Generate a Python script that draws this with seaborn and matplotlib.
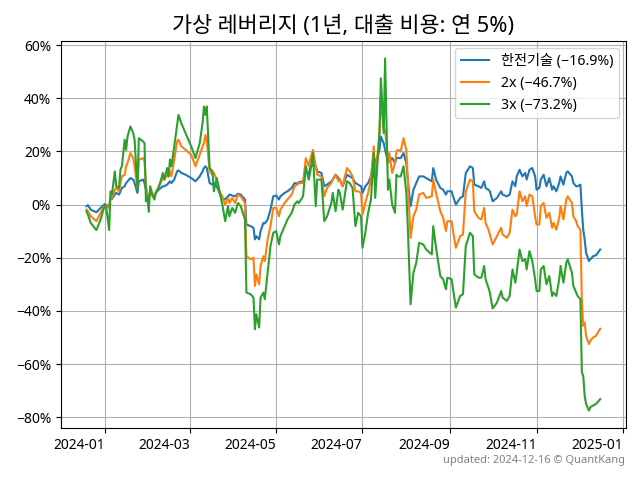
import matplotlib
matplotlib.use("Agg")
import matplotlib.pyplot as plt
import matplotlib.dates as mdates
from matplotlib.ticker import FuncFormatter
import seaborn as sns
import pandas as pd

# ---------------- data ----------------
dates = [
    "2023-12-19", "2023-12-20", "2023-12-22", "2023-12-26", "2023-12-29",
    "2024-01-01", "2024-01-02", "2024-01-04", "2024-01-05", "2024-01-06",
    "2024-01-08", "2024-01-09", "2024-01-11", "2024-01-12", "2024-01-13",
    "2024-01-15", "2024-01-16", "2024-01-17", "2024-01-19", "2024-01-21",
    "2024-01-22", "2024-01-24", "2024-01-25", "2024-01-28", "2024-01-29",
    "2024-01-30", "2024-01-31", "2024-02-01", "2024-02-02", "2024-02-04",
    "2024-02-05", "2024-02-06", "2024-02-08", "2024-02-11", "2024-02-12",
    "2024-02-14", "2024-02-15", "2024-02-16", "2024-02-17", "2024-02-19",
    "2024-02-21", "2024-02-22", "2024-02-24", "2024-02-27", "2024-03-02",
    "2024-03-05", "2024-03-08", "2024-03-10", "2024-03-11", "2024-03-12",
    "2024-03-13",
    "2024-03-15", "2024-03-17", "2024-03-18", "2024-03-20", "2024-03-22",
    "2024-03-24", "2024-03-26", "2024-03-28", "2024-03-29", "2024-03-31",
    "2024-04-02", "2024-04-04", "2024-04-06", "2024-04-09", "2024-04-10",
    "2024-04-13", "2024-04-15", "2024-04-16", "2024-04-17", "2024-04-19",
    "2024-04-20", "2024-04-22", "2024-04-23", "2024-04-25", "2024-04-27",
    "2024-04-29", "2024-05-01", "2024-05-03", "2024-05-04", "2024-05-07",
    "2024-05-09", "2024-05-12", "2024-05-14", "2024-05-16", "2024-05-17",
    "2024-05-20", "2024-05-22", "2024-05-24", "2024-05-25", "2024-05-27",
    "2024-05-29", "2024-05-30", "2024-06-02", "2024-06-04", "2024-06-06",
    "2024-06-09", "2024-06-10", "2024-06-12", "2024-06-14",
    "2024-06-15", "2024-06-17", "2024-06-20", "2024-06-22", "2024-06-24",
    "2024-06-26", "2024-06-28", "2024-06-30", "2024-07-01", "2024-07-03",
    "2024-07-05", "2024-07-07", "2024-07-09", "2024-07-10", "2024-07-13",
    "2024-07-14", "2024-07-16", "2024-07-17", "2024-07-19", "2024-07-20",
    "2024-07-22", "2024-07-24", "2024-07-25", "2024-07-26", "2024-07-28",
    "2024-07-30", "2024-08-01", "2024-08-02", "2024-08-04", "2024-08-06",
    "2024-08-08", "2024-08-10", "2024-08-13", "2024-08-15", "2024-08-19",
    "2024-08-20", "2024-08-22", "2024-08-25", "2024-08-27", "2024-08-29",
    "2024-08-30", "2024-09-02", "2024-09-03", "2024-09-05", "2024-09-08",
    "2024-09-10", "2024-09-12",
    "2024-09-15", "2024-09-17", "2024-09-18", "2024-09-21", "2024-09-23",
    "2024-09-25", "2024-09-26", "2024-09-28", "2024-09-29", "2024-10-01",
    "2024-10-04", "2024-10-07", "2024-10-08", "2024-10-11", "2024-10-13",
    "2024-10-15", "2024-10-17", "2024-10-18", "2024-10-20", "2024-10-22",
    "2024-10-24", "2024-10-25", "2024-10-27", "2024-10-29", "2024-10-31",
    "2024-11-01", "2024-11-03", "2024-11-04", "2024-11-06", "2024-11-08",
    "2024-11-10", "2024-11-12", "2024-11-13", "2024-11-15", "2024-11-17",
    "2024-11-18", "2024-11-20", "2024-11-22", "2024-11-23", "2024-11-26",
    "2024-11-27", "2024-11-29", "2024-11-30", "2024-12-02", "2024-12-03",
    "2024-12-04", "2024-12-05", "2024-12-06", "2024-12-08", "2024-12-09",
    "2024-12-11", "2024-12-13", "2024-12-16",
]

# cumulative return (%) of the underlying stock
base_1x = [
    -0.6, -0.25, -1.9, -2.9, -1.25, 0.25, -0.25, -0.6, 2.5, 2.1,
    3.75, 4.4, 3.75, 5.0, 6.25, 6.9, 8.1, 8.75, 10.0, 9.4,
    8.1, 4.4, 8.75, 9.4, 8.1, 5.6, 4.1, 3.75, 4.1, 3.1,
    3.4, 4.4, 5.6, 6.9, 6.9, 7.5, 8.1, 8.75, 8.1, 9.4,
    12.5, 12.9, 11.9, 11.25, 10.0, 8.75, 10.6, 12.5, 13.75, 14.4,
    13.75,
    8.1, 7.5, 8.1, 6.9, 4.4, 1.9, 2.1, 3.1, 3.75, 3.4,
    3.1, 4.1, 3.75, 1.9, -7.5, -8.1, -8.75, -13.1, -11.9, -13.1,
    -10.0, -6.9, -7.1, -5.6, -1.9, 3.1, 3.4, 1.9, 3.1, 4.4,
    5.0, 6.25, 8.1, 7.9, 8.4, 8.75, 12.5, 11.25, 13.75, 15.0,
    14.4, 12.5, 11.9, 6.9, 7.5, 8.75, 9.4, 11.25, 10.0,
    9.4, 6.9, 11.25, 10.6, 10.0, 8.1, 7.5, 6.9, 4.4, 6.9,
    8.1, 10.6, 18.75, 15.0, 20.6, 25.6, 23.1, 20.6, 16.25, 16.25,
    17.5, 15.6, 17.5, 17.5, 17.5, 19.4, 15.6, 9.4, -0.6, 5.6,
    8.1, 10.6, 10.6, 10.0, 8.75, 13.75, 9.4, 6.25, 5.6, 3.75,
    5.0, 5.0, 3.1, 0.0, 2.5, 3.1, 11.9,
    14.4, 13.75, 7.5, 6.9, 6.25, 8.75, 6.25, 5.6, 5.0, 1.25,
    2.5, 5.0, 3.75, 3.1, 3.75, 8.75, 6.9, 10.6, 13.1, 10.6,
    11.9, 9.4, 13.1, 13.75, 10.6, 5.6, 6.25, 9.4, 11.25, 6.9,
    10.0, 5.6, 6.9, 5.0, 8.1, 10.6, 7.5, 11.9, 12.5, 10.6,
    8.1, 6.9, 6.9, 7.5, -1.9, -9.4, -13.1, -18.1, -21.25, -20.6,
    -19.4, -19.1, -16.9,
]

# 2x leveraged (%)
lev_2x = [
    -1.9, -2.5, -4.4, -6.25, -3.1, 0.0, -0.6, -1.25, 3.1, 2.5,
    5.6, 6.25, 5.0, 8.1, 10.6, 11.25, 14.4, 15.6, 19.4, 17.5,
    14.4, 6.25, 16.9, 17.5, 16.25, 8.1, 3.1, 2.9, 5.0, 3.1,
    3.75, 4.4, 6.9, 10.0, 9.4, 11.25, 10.6, 12.5, 10.6, 16.9,
    23.75, 24.4, 21.9, 20.6, 18.75, 14.4, 18.75, 21.9, 23.1, 26.25,
    24.4,
    12.5, 11.25, 11.9, 9.4, 5.0, 3.1, 0.0, 2.5, 0.6, 2.5,
    0.6, 3.75, 3.1, 0.6, -19.4, -20.6, -20.0, -30.6, -26.25, -30.0,
    -23.1, -19.4, -21.25, -13.1, -8.1, -1.25, -1.25, -4.4, -1.9, 0.6,
    1.9, 3.75, 6.9, 7.5, 8.1, 8.1, 17.5, 14.4, 16.9, 20.6,
    14.4, 11.25, 10.6, 3.1, 6.25, 8.1, 9.4, 11.25, 8.75,
    9.4, 6.9, 13.75, 12.5, 10.6, 5.0, 5.0, 4.4, -3.75, 0.6,
    4.4, 9.4, 21.9, 8.75, 26.9, 40.6, 28.1, 28.1, 15.6, 19.4,
    11.9, 15.6, 20.0, 20.6, 20.0, 25.0, 20.6, 9.4, -12.5, -4.4,
    -1.9, 3.75, 4.4, 2.5, 3.1, 9.4, 4.4, -2.5, -5.0, -10.0,
    -6.25, -6.25, -10.0, -16.25, -11.9, -11.25, 5.0,
    9.4, 8.75, -2.5, -5.0, -5.6, -1.25, -6.9, -9.4, -11.25, -15.0,
    -11.9, -8.75, -11.25, -12.5, -10.6, -1.9, -4.4, -3.75, 5.0, 1.25,
    3.1, -0.6, 3.75, 3.1, -4.4, -7.5, -7.5, -0.6, 0.6, -5.0,
    -3.1, -8.75, -6.9, -9.4, -5.0, -0.6, -5.6, 1.9, 3.1, 0.6,
    -4.4, -6.25, -8.1, -9.4, -35.6, -45.6, -44.4, -49.4, -52.5, -51.25,
    -50.0, -49.4, -46.7,
]

# 3x leveraged (%)
lev_3x = [
    -2.5, -3.75, -6.9, -9.6, -5.6, 0.0, -1.25, -9.6, 5.0, 3.75,
    12.5, 6.9, 6.25, 13.1, 14.4, 24.4, 20.6, 25.6, 29.4, 26.9,
    24.4, 5.6, 25.0, 23.75, 23.1, 1.25, 3.1, -2.75, 6.9, 3.1,
    1.9, 4.4, 6.25, 11.9, 9.4, 13.75, 10.6, 16.9, 14.4, 21.9,
    30.0, 33.75, 30.6, 26.9, 21.9, 17.5, 23.1, 30.6, 36.9, 33.75,
    36.9,
    13.75, 12.5, 5.0, 10.0, 5.0, 0.0, -6.25, -0.6, -4.4, -1.25,
    -3.1, 0.6, -0.6, -5.6, -33.1, -33.75, -35.0, -46.9, -41.25, -46.25,
    -35.0, -33.1, -35.6, -25.6, -15.6, -10.6, -10.0, -15.0, -11.9, -8.1,
    -5.6, -3.1, 0.0, 1.25, 0.6, 3.1, 14.4, 9.4, 11.9, 19.4,
    -0.6, 9.4, 9.4, -6.25, -4.4, 0.6, 4.4, -2.5, 5.6,
    4.4, -1.9, 8.75, 8.1, 6.25, -8.1, -3.1, -4.4, -16.25, -10.6,
    -3.1, 1.9, 19.4, 2.5, 26.9, 47.5, 26.9, 55.0, 5.6, 9.4,
    0.0, -3.1, 11.25, 10.6, 10.6, 14.4, 4.4, -8.1, -37.5, -25.6,
    -21.9, -14.4, -15.0, -16.9, -18.75, -8.1, -16.25, -26.9, -28.1, -31.9,
    -27.5, -28.1, -31.9, -38.75, -34.4, -33.75, -15.6,
    -10.6, -11.9, -26.25, -27.5, -27.5, -23.1, -28.1, -31.25, -33.1, -39.1,
    -36.9, -32.5, -35.0, -36.25, -34.4, -24.4, -29.4, -25.6, -16.9, -21.25,
    -20.6, -24.4, -17.5, -21.25, -28.1, -32.5, -32.5, -24.4, -23.1, -30.0,
    -26.9, -34.4, -33.1, -34.4, -28.1, -23.1, -29.4, -21.9, -20.6, -25.6,
    -30.6, -33.1, -34.4, -35.6, -63.1, -64.4, -71.9, -75.0, -77.5, -76.25,
    -75.6, -75.0, -73.2,
]

series_names = ["한전기술 (\u221216.9%)", "2x (\u221246.7%)", "3x (\u221273.2%)"]
colors = ["#1f77b4", "#ff7f0e", "#2ca02c"]
title = "가상 레버리지 (1년, 대출 비용: 연 5%)"
footer = "updated: 2024-12-16 \u00a9 QuantKang"
tick_months = [1, 3, 5, 7, 9, 11]

# ---------------- figure ----------------
plt.rcParams["font.family"] = ["Noto Sans", "Noto Sans CJK KR", "DejaVu Sans"]

wide = pd.DataFrame({
    "date": pd.to_datetime(dates),
    series_names[0]: base_1x,
    series_names[1]: lev_2x,
    series_names[2]: lev_3x,
})
long = wide.melt(id_vars="date", var_name="series", value_name="ret")

fig, ax = plt.subplots(figsize=(6.4, 4.8), dpi=100)
sns.lineplot(data=long, x="date", y="ret", hue="series",
             palette=dict(zip(series_names, colors)), linewidth=1.5,
             ax=ax, estimator=None, sort=False)

ax.set_xlabel("")
ax.set_ylabel("")
ax.set_title(title, fontsize=15.7)
ax.grid(True, color="#b0b0b0", linewidth=0.8)
ax.set_axisbelow(True)

ax.xaxis.set_major_locator(mdates.MonthLocator(bymonth=tick_months))
ax.xaxis.set_major_formatter(mdates.DateFormatter("%Y-%m"))
ax.yaxis.set_major_formatter(
    FuncFormatter(lambda v, p: f"{round(v):d}%".replace("-", "\u2212")))
ax.tick_params(labelsize=10)

leg = ax.legend(loc="upper right", fontsize=10.2)

fig.autofmt_xdate(rotation=0, ha="right")
fig.subplots_adjust(left=0.095, right=0.978, top=0.915, bottom=0.108)

fig.text(0.977, 0.03, footer, ha="right", va="bottom", fontsize=8, color="gray")

fig.savefig("out.png", dpi=100)
